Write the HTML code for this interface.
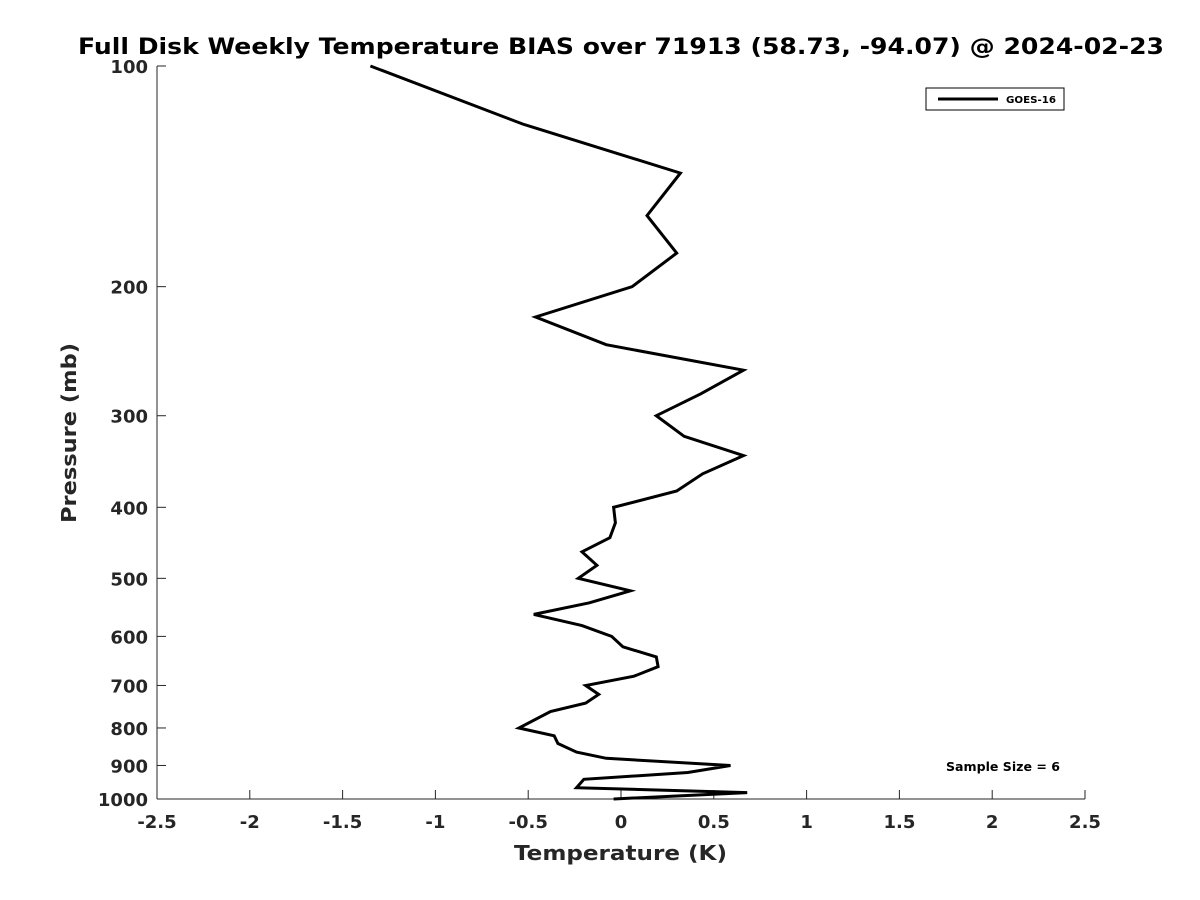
<!DOCTYPE html>
<html><head><meta charset="utf-8"><style>
body{margin:0;background:#fff;}
svg{display:block;font-family:"DejaVu Sans","Liberation Sans",sans-serif;}
</style></head><body>
<svg id="chart" width="1200" height="900" viewBox="0 0 1200 900" xmlns="http://www.w3.org/2000/svg">
<rect width="1200" height="900" fill="#fff"/>
<text x="78" y="54" textLength="1086" lengthAdjust="spacingAndGlyphs" font-size="22" font-weight="bold" fill="#000">Full Disk Weekly Temperature BIAS over 71913 (58.73, -94.07) @ 2024-02-23</text>
<g id="axes"></g>
<polyline id="series" fill="none" stroke="#000" stroke-width="3" stroke-linejoin="miter"/>
<g>
<rect x="926" y="88" width="138" height="22" fill="#fff" stroke="#000" stroke-width="1"/>
<line x1="938" y1="99" x2="998" y2="99" stroke="#000" stroke-width="3"/>
<text x="1006" y="103" textLength="50" lengthAdjust="spacingAndGlyphs" font-size="10" font-weight="bold">GOES-16</text>
</g>
<text x="946" y="771" textLength="114" lengthAdjust="spacingAndGlyphs" font-size="12" font-weight="bold">Sample Size = 6</text>
<text x="514" y="860" textLength="213" lengthAdjust="spacingAndGlyphs" font-size="20" font-weight="bold" fill="#262626">Temperature (K)</text>
<text transform="translate(76,523) rotate(-90)" textLength="180" lengthAdjust="spacingAndGlyphs" font-size="20" font-weight="bold" fill="#262626">Pressure (mb)</text>
</svg>
<script>
const pressures=[100,120,140,160,180,200,220,240,260,280,300,320,340,360,380,400,420,440,460,480,500,520,540,560,580,600,620,640,660,680,700,720,740,760,800,820,840,863,880,900,920,940,965,980,1000];
const temps=[-1.35,-0.53,0.32,0.14,0.30,0.06,-0.46,-0.08,0.66,0.43,0.19,0.34,0.66,0.44,0.30,-0.04,-0.03,-0.06,-0.21,-0.13,-0.23,0.05,-0.17,-0.47,-0.21,-0.05,0.01,0.19,0.20,0.07,-0.19,-0.12,-0.19,-0.38,-0.55,-0.36,-0.34,-0.24,-0.08,0.59,0.36,-0.20,-0.24,0.68,-0.04];
const xTicks=[-2.5,-2,-1.5,-1,-0.5,0,0.5,1,1.5,2,2.5];
const xTickLabels=["-2.5","-2","-1.5","-1","-0.5","0","0.5","1","1.5","2","2.5"];
const yTicks=[100,200,300,400,500,600,700,800,900,1000];
const yTickLabels=["100","200","300","400","500","600","700","800","900","1000"];
const X0=157,X1=1085,Y0=66,Y1=799;
function sx(v){return X0+(v+2.5)/5*(X1-X0);}
function sy(p){return Y0+Math.log10(p/100)*(Y1-Y0);}
const NS="http://www.w3.org/2000/svg";
const ax=document.getElementById('axes');
function mk(t,a){const e=document.createElementNS(NS,t);for(const k in a)e.setAttribute(k,a[k]);return e;}
let l=mk('line',{x1:X0,y1:Y0,x2:X0,y2:Y1,stroke:'#262626','stroke-width':1});


ax.appendChild(l);
l=mk('line',{x1:X0,y1:Y1,x2:X1,y2:Y1,stroke:'#262626','stroke-width':1});


ax.appendChild(l);
xTicks.forEach((v,i)=>{
 const x=sx(v);
 const t=mk('line',{x1:x,y1:Y1,x2:x,y2:Y1-9,stroke:'#262626','stroke-width':1});
 
 
 ax.appendChild(t);
 const tx=mk('text',{x:x,y:Y1+29,'text-anchor':'middle','font-size':18,'font-weight':'bold',fill:'#262626'});
 tx.textContent=xTickLabels[i];
 
 
 ax.appendChild(tx);
});
yTicks.forEach((v,i)=>{
 const y=sy(v);
 const t=mk('line',{x1:X0,y1:y,x2:X0+9,y2:y,stroke:'#262626','stroke-width':1});
 
 
 ax.appendChild(t);
 const tx=mk('text',{x:X0-9,y:y+7,'text-anchor':'end','font-size':18,'font-weight':'bold',fill:'#262626'});
 tx.textContent=yTickLabels[i];
 
 
 ax.appendChild(tx);
});
document.getElementById('series').setAttribute('points',pressures.map((p,i)=>sx(temps[i]).toFixed(1)+','+sy(p).toFixed(1)).join(' '));
</script>
</body></html>
